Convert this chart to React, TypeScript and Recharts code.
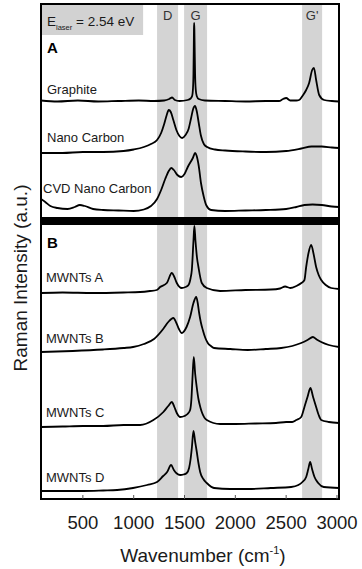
import React from 'react';
import { LineChart, Line, XAxis, YAxis, ReferenceArea } from 'recharts';

const W = 362;
const H = 569;
const FONT = '"Liberation Sans", Arial, Helvetica, sans-serif';

// axes
const xDomain: [number, number] = [88, 3020];
const yDomain: [number, number] = [0, 495];
const xTicks = [500, 1000, 1500, 2000, 2500, 3000];

// shaded Raman bands
const bandLabels = ['D', 'G', "G'"];
const bandStart = [1230, 1496, 2657];
const bandEnd = [1437, 1722, 2854];

// divider between panels A and B (intensity units)
const dividerRange = [274, 282];
// laser energy box
const laserBoxEnd = 1093;
const laserBoxBottom = 464;
const laserEnergy = '2.54 eV';

// spectra: [wavenumber, stacked intensity]
const graphite = [
  [88, 398.5], [250, 397.5], [450, 398.5], [650, 397.5], [850, 398], [1050, 398.5], [1200, 398],
  [1300, 398.5], [1350, 400], [1378, 401.5], [1405, 399], [1450, 398], [1530, 399], [1560, 400.5],
  [1575, 403], [1583, 410], [1588, 425], [1591, 450], [1593, 470], [1595, 476], [1597, 470],
  [1600, 450], [1604, 425], [1610, 410], [1620, 403], [1640, 400], [1700, 398.5], [1900, 398],
  [2100, 397.5], [2300, 398], [2430, 398], [2470, 400], [2500, 401], [2540, 398.5], [2600, 398.5],
  [2628, 399], [2660, 403], [2697, 409], [2726, 416], [2756, 429], [2773, 431], [2795, 419],
  [2825, 404], [2874, 399], [2950, 398], [3020, 397.5],
];

const nanoCarbon = [
  [88, 346], [300, 346], [500, 347], [700, 347], [900, 348], [1000, 349.5], [1100, 352], [1170, 355],
  [1230, 359], [1270, 366], [1300, 375], [1325, 384], [1345, 389], [1365, 387], [1390, 379],
  [1420, 369], [1450, 363], [1476, 361], [1510, 364], [1540, 370], [1565, 381], [1585, 390],
  [1603, 393], [1620, 388], [1640, 376], [1660, 364], [1690, 355], [1722, 352], [1800, 349.5],
  [1900, 348.5], [2100, 347.5], [2300, 347], [2500, 348], [2650, 350.5], [2750, 352.5],
  [2850, 352.5], [2950, 351.5], [3020, 351],
];

const cvdNanoCarbon = [
  [88, 300], [130, 297], [180, 293], [250, 291], [350, 290], [420, 292], [470, 294], [520, 293],
  [600, 290], [700, 289], [850, 288.5], [1000, 288], [1100, 289.5], [1170, 293], [1230, 300],
  [1270, 309], [1310, 320], [1345, 328], [1370, 331], [1395, 329], [1430, 324], [1467, 322],
  [1500, 325], [1532, 332], [1582, 341], [1605, 346], [1620, 343], [1640, 333], [1662, 316],
  [1690, 302], [1713, 294], [1762, 289], [1900, 288], [2100, 288.5], [2300, 289], [2500, 290],
  [2600, 292], [2680, 294], [2760, 294.5], [2850, 294], [2950, 292.5], [3020, 292],
];

const mwntsA = [
  [88, 206], [300, 206.5], [600, 206], [900, 206.5], [1063, 207], [1160, 208], [1227, 209],
  [1260, 212], [1326, 216], [1375, 226], [1400, 222], [1424, 216], [1473, 211], [1510, 212],
  [1539, 214], [1560, 221], [1572, 229], [1588, 258], [1597, 273], [1608, 258], [1622, 242],
  [1637, 232], [1670, 216], [1719, 211], [1850, 208], [2100, 209], [2350, 209.5], [2440, 210.5],
  [2490, 212.5], [2540, 211], [2600, 213], [2650, 216], [2680, 219], [2697, 232], [2720, 246],
  [2746, 254], [2770, 245], [2795, 232], [2820, 224], [2845, 219], [2890, 214], [2943, 211],
  [3020, 210],
];

const mwntsB = [
  [88, 147], [400, 148], [700, 149.5], [900, 151], [994, 152], [1100, 155], [1200, 160],
  [1290, 170], [1340, 177], [1390, 181], [1420, 176], [1445, 170], [1473, 166], [1520, 172],
  [1555, 182], [1588, 196], [1615, 202], [1630, 196], [1644, 186], [1660, 177], [1680, 169],
  [1705, 161], [1729, 156], [1760, 153], [1791, 151], [1950, 150], [2123, 149], [2300, 150],
  [2451, 151], [2560, 153], [2648, 156], [2710, 159], [2763, 162], [2800, 159.5], [2845, 157],
  [2920, 154], [3020, 152],
];

const mwntsC = [
  [88, 72], [300, 72.5], [500, 73], [700, 73], [900, 74], [1063, 74], [1194, 79], [1292, 87],
  [1340, 93], [1375, 97], [1400, 92], [1424, 86], [1457, 82], [1500, 83], [1530, 85], [1555, 89],
  [1568, 100], [1578, 120], [1591, 142], [1605, 125], [1620, 112], [1637, 100], [1655, 92],
  [1670, 87], [1719, 79], [1850, 75], [2000, 75], [2200, 75.5], [2400, 76], [2500, 77],
  [2560, 77], [2600, 79], [2648, 82], [2680, 92], [2710, 102], [2739, 111], [2765, 102],
  [2795, 92], [2820, 84], [2845, 79], [2920, 77], [3020, 76],
];

const mwntsD = [
  [88, 8], [300, 8], [502, 8], [700, 8.5], [837, 9], [994, 11], [1132, 14], [1230, 17],
  [1290, 23], [1329, 27], [1368, 34], [1395, 29], [1424, 25.5], [1457, 24], [1490, 24.5],
  [1522, 26], [1545, 31], [1560, 40], [1572, 51], [1588, 68], [1605, 57], [1621, 47],
  [1637, 36], [1654, 27], [1685, 20], [1719, 16], [1791, 11], [1950, 10], [2126, 10],
  [2350, 11], [2549, 12], [2620, 14], [2660, 17], [2697, 22], [2718, 30], [2736, 37],
  [2755, 30], [2779, 22], [2815, 16], [2870, 12], [3020, 11],
];

const spectra = [graphite, nanoCarbon, cvdNanoCarbon, mwntsA, mwntsB, mwntsC, mwntsD];
const sampleNames = ['Graphite', 'Nano Carbon', 'CVD Nano Carbon', 'MWNTs A', 'MWNTs B', 'MWNTs C', 'MWNTs D'];
const sampleLabelX = [47, 47, 43, 46, 46, 46, 46];
const sampleLabelY = [94, 142, 193, 282, 343, 417, 482];
const panelNames = ['A', 'B'];
const panelLabelY = [53, 248];

const toPts = (a: number[][]) => a.map(([w, v]) => ({ w, v }));

const LaserLabel = (props: any) => {
  const vb = props.viewBox || { x: 41, y: 4 };
  const x = vb.x + 6;
  const y = vb.y + 22;
  return (
    <text x={x} y={y} fontSize={13.5} fill="#1a1a1a" fontFamily={FONT}>
      E
      <tspan fontSize={7.5} dy={4}>laser</tspan>
      <tspan dy={-4}>{` = ${laserEnergy}`}</tspan>
    </text>
  );
};

export default function App() {
  return (
    <div style={{ position: 'absolute', left: 0, top: 0, width: W, height: H, background: '#fff' }}>
      <LineChart
        width={W}
        height={H}
        margin={{ top: 4, right: 23, bottom: 10, left: 0 }}
        style={{ fontFamily: FONT }}
      >
        <XAxis
          dataKey="w"
          type="number"
          domain={xDomain}
          allowDataOverflow
          ticks={xTicks}
          interval={0}
          height={60}
          tickSize={-4}
          tickMargin={21}
          tickLine={{ stroke: '#555', strokeWidth: 1 }}
          axisLine={false}
          tick={{ fontSize: 18.5, fill: '#1a1a1a', fontFamily: FONT }}
        />
        <YAxis
          dataKey="v"
          type="number"
          domain={yDomain}
          allowDataOverflow
          width={41}
          tick={false}
          tickLine={false}
          axisLine={false}
        />
        {bandLabels.map((b, i) => (
          <ReferenceArea
            key={b}
            x1={bandStart[i]}
            x2={bandEnd[i]}
            y1={yDomain[0]}
            y2={yDomain[1]}
            fill="#d4d4d4"
            fillOpacity={1}
            stroke="none"
            label={{ value: b, position: 'insideTop', offset: 7, fill: '#333', fontSize: 13, fontFamily: FONT }}
          />
        ))}
        <ReferenceArea
          x1={xDomain[0]}
          x2={laserBoxEnd}
          y1={laserBoxBottom}
          y2={yDomain[1]}
          fill="#d2d2d2"
          fillOpacity={1}
          stroke="none"
          label={<LaserLabel />}
        />
        <ReferenceArea
          x1={xDomain[0]}
          x2={xDomain[1]}
          y1={dividerRange[0]}
          y2={dividerRange[1]}
          fill="#000"
          fillOpacity={1}
          stroke="none"
        />
        {spectra.map((s, i) => (
          <Line
            key={sampleNames[i]}
            data={toPts(s)}
            dataKey="v"
            type="monotone"
            stroke="#000"
            strokeWidth={1.8}
            dot={false}
            activeDot={false}
            isAnimationActive={false}
          />
        ))}
        <ReferenceArea
          x1={xDomain[0]}
          x2={xDomain[1]}
          y1={yDomain[0]}
          y2={yDomain[1]}
          fill="none"
          stroke="#000"
          strokeWidth={2}
        />
        {sampleNames.map((n, i) => (
          <text key={n} x={sampleLabelX[i]} y={sampleLabelY[i]} fontSize={13} fill="#1a1a1a" fontFamily={FONT}>
            {n}
          </text>
        ))}
        {panelNames.map((p, i) => (
          <text key={p} x={47} y={panelLabelY[i]} fontSize={15} fontWeight="bold" fill="#000" fontFamily={FONT}>
            {p}
          </text>
        ))}
        <text
          x={27}
          y={278}
          transform="rotate(-90 27 278)"
          textAnchor="middle"
          fontSize={19}
          fill="#1a1a1a"
          fontFamily={FONT}
        >
          Raman Intensity (a.u.)
        </text>
        <text x={203} y={562} textAnchor="middle" fontSize={19} fill="#1a1a1a" fontFamily={FONT}>
          Wavenumber (cm
          <tspan fontSize={11} dy={-8}>-1</tspan>
          <tspan dy={8}>)</tspan>
        </text>
      </LineChart>
    </div>
  );
}
